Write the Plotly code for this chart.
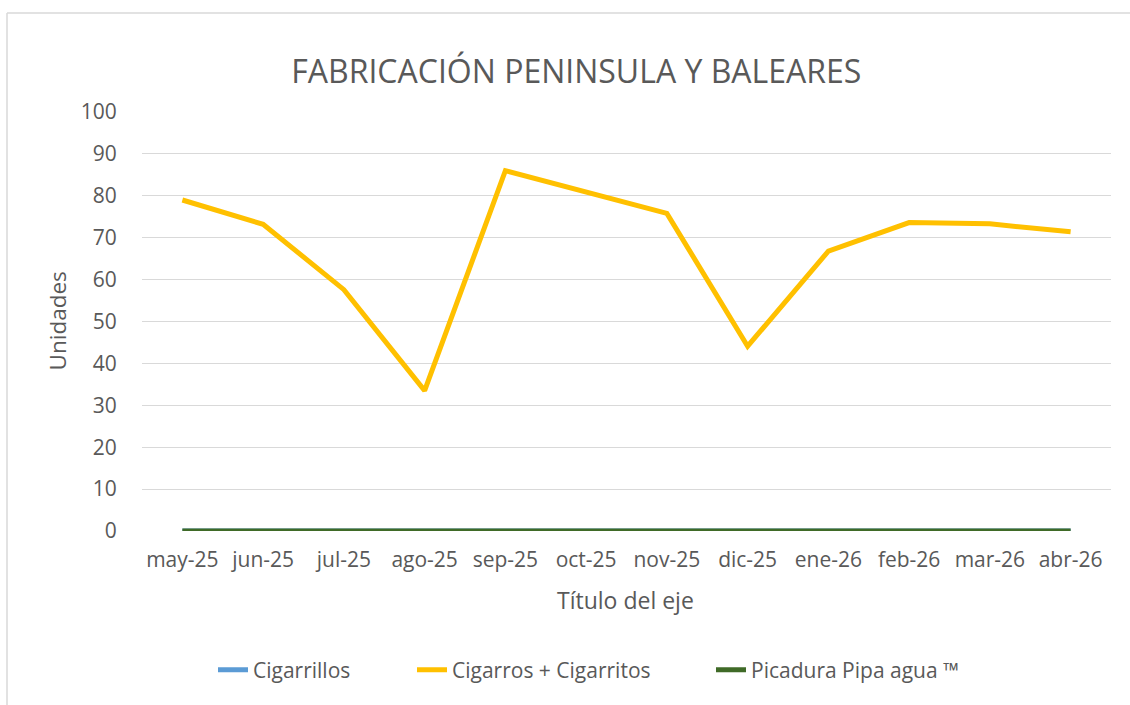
import plotly.graph_objects as go

months = ["may-25", "jun-25", "jul-25", "ago-25", "sep-25", "oct-25",
          "nov-25", "dic-25", "ene-26", "feb-26", "mar-26", "abr-26"]
cigarrillos = [0, 0, 0, 0, 0, 0, 0, 0, 0, 0, 0, 0]
cigarros = [79.0, 73.2, 57.6, 33.5, 86.0, 81.0, 75.8, 44.1, 66.8, 73.6, 73.3, 71.4]
picadura = [0, 0, 0, 0, 0, 0, 0, 0, 0, 0, 0, 0]
y_ticks = [0, 10, 20, 30, 40, 50, 60, 70, 80, 90, 100]

FONT = "Open Sans"
TXT = "#595959"

fig = go.Figure()
fig.add_trace(go.Scatter(x=months, y=cigarrillos, mode="lines", name="Cigarrillos",
                         line=dict(color="#5B9BD5", width=5), legend="legend"))
fig.add_trace(go.Scatter(x=months, y=cigarros, mode="lines", name="Cigarros + Cigarritos",
                         line=dict(color="#FFC000", width=5), legend="legend2"))
fig.add_trace(go.Scatter(x=months, y=picadura, mode="lines", name="Picadura Pipa agua ™",
                         line=dict(color="#3F6A27", width=5), legend="legend3"))


def px_x(p):
    return (p - 142) / 969


def px_y(p):
    return (531 - p) / 419


leg_common = dict(orientation="h", yanchor="middle", y=px_y(670), xanchor="left",
                  font=dict(size=21, color=TXT), bgcolor="rgba(0,0,0,0)")

fig.update_layout(
    width=1130, height=705,
    margin=dict(l=142, r=19, t=112, b=174),
    paper_bgcolor="white", plot_bgcolor="white",
    font=dict(family=FONT, color=TXT),
    title=dict(text="FABRICACIÓN PENINSULA Y BALEARES", x=0.51, xanchor="center",
               y=1 - 72 / 705, yanchor="middle", font=dict(size=32, color=TXT)),
    showlegend=True,
    legend=dict(x=px_x(213), **leg_common),
    legend2=dict(x=px_x(412), **leg_common),
    legend3=dict(x=px_x(711), **leg_common),
    xaxis=dict(type="category", range=[-0.5, 11.5], showgrid=False, showline=False,
               ticks="outside", ticklen=10, tickcolor="rgba(0,0,0,0)",
               tickfont=dict(size=21, color=TXT), zeroline=False),
    yaxis=dict(range=[0, 100], tickvals=y_ticks, showgrid=True, gridcolor="#D9D9D9",
               gridwidth=1, zeroline=False, showline=False,
               ticks="outside", ticklen=20, tickcolor="rgba(0,0,0,0)",
               tickfont=dict(size=21, color=TXT)),
    annotations=[
        dict(text="Unidades", xref="paper", yref="paper", x=px_x(57), y=0.5,
             textangle=-90, showarrow=False, xanchor="center", yanchor="middle",
             font=dict(size=22.5, color=TXT)),
        dict(text="Título del eje", xref="paper", yref="paper", x=px_x(625), y=px_y(600),
             showarrow=False, xanchor="center", yanchor="middle",
             font=dict(size=23, color=TXT)),
    ],
    shapes=[
        dict(type="line", xref="paper", yref="paper", x0=px_x(7), x1=1.1,
             y0=px_y(13), y1=px_y(13), line=dict(color="#D9D9D9", width=1.5)),
        dict(type="line", xref="paper", yref="paper", x0=px_x(7), x1=px_x(7),
             y0=px_y(13), y1=-0.5, line=dict(color="#D9D9D9", width=1.5)),
    ],
)

fig.write_html("out.html", post_script="document.body.style.margin='0';",
               config={"displayModeBar": False})
